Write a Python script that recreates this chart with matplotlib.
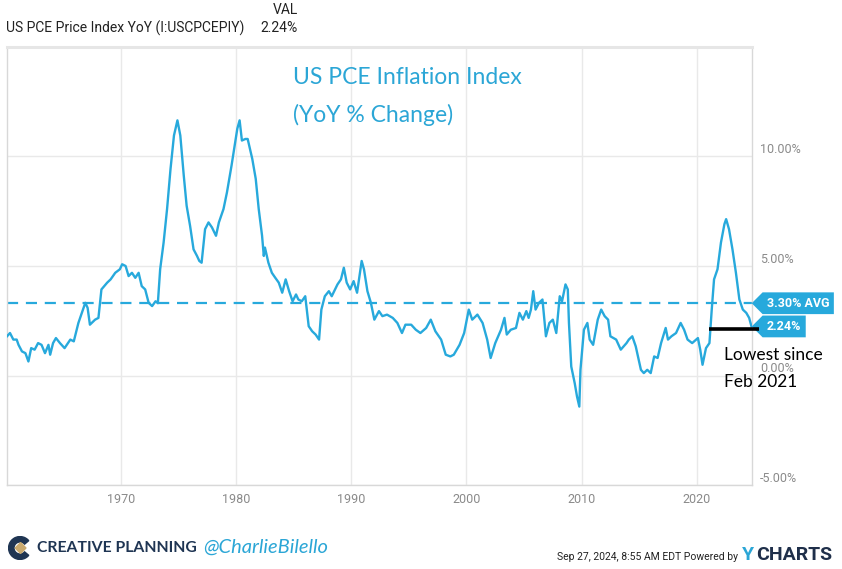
import matplotlib
matplotlib.use("Agg")
import matplotlib.pyplot as plt
import matplotlib.transforms as mtransforms
from matplotlib.path import Path
from matplotlib.patches import Wedge, Polygon

# US PCE Price Index YoY (%)
years = [1960.1, 1960.36, 1960.65, 1960.94, 1961.1, 1961.4, 1961.7, 1961.96, 1962.2, 1962.5,
         1962.8, 1963.1, 1963.4, 1963.7, 1963.85, 1964.1, 1964.35, 1964.7, 1965.1, 1965.6,
         1965.9, 1966.3, 1966.6, 1966.9, 1967.1, 1967.3, 1967.75, 1968.04, 1968.3, 1968.8,
         1969.1, 1969.5, 1969.7, 1969.9, 1970.1, 1970.4, 1970.66, 1970.95, 1971.24, 1971.53,
         1971.8, 1972.1, 1972.4, 1972.7, 1973.0, 1973.2, 1973.4, 1973.7, 1974.0, 1974.3,
         1974.6, 1974.9, 1975.15, 1975.45, 1975.7, 1976.0, 1976.3, 1976.6, 1976.8, 1977.0,
         1977.3, 1977.6, 1977.9, 1978.25, 1978.5, 1978.9, 1979.2, 1979.6, 1980.1, 1980.3,
         1980.5, 1980.8, 1981.0, 1981.4, 1981.7, 1981.96, 1982.25, 1982.4, 1982.5, 1982.8,
         1983.1, 1983.4, 1983.7, 1984.0, 1984.3, 1984.6, 1984.9, 1985.2, 1985.4, 1985.7,
         1986.0, 1986.3, 1986.6, 1986.9, 1987.2, 1987.4, 1987.7, 1988.05, 1988.3, 1988.8,
         1989.1, 1989.35, 1989.6, 1989.9, 1990.2, 1990.5, 1990.9, 1991.1, 1991.4, 1991.7,
         1992.0, 1992.4, 1992.7, 1993.1, 1993.6, 1994.0, 1994.4, 1994.7, 1995.2, 1995.6,
         1996.0, 1996.5, 1996.9, 1997.3, 1997.8, 1998.2, 1998.6, 1998.9, 1999.4, 1999.8,
         2000.2, 2000.5, 2000.95, 2001.4, 2001.8, 2002.1, 2002.5, 2003.0, 2003.3, 2003.5,
         2003.85, 2004.3, 2004.6, 2004.9, 2005.2, 2005.4, 2005.6, 2005.8, 2006.0, 2006.3,
         2006.6, 2006.9, 2007.2, 2007.5, 2007.8, 2008.1, 2008.3, 2008.6, 2008.8, 2008.9,
         2009.1, 2009.4, 2009.6, 2009.8, 2009.9, 2010.2, 2010.5, 2010.7, 2011.0, 2011.4,
         2011.7, 2012.0, 2012.3, 2012.5, 2013.0, 2013.4, 2013.9, 2014.1, 2014.4, 2014.7,
         2015.15, 2015.4, 2015.7, 2016.0, 2016.3, 2016.6, 2016.9, 2017.3, 2017.5, 2017.8,
         2018.2, 2018.6, 2018.9, 2019.2, 2019.6, 2020.1, 2020.3, 2020.5, 2020.8, 2021.1,
         2021.3, 2021.5, 2021.8, 2022.1, 2022.4, 2022.55, 2022.8, 2023.1, 2023.4, 2023.7,
         2024.0, 2024.3, 2024.55, 2024.75]
pce_yoy = [1.79, 1.94, 1.64, 1.64, 1.40, 1.10, 1.02, 0.64, 1.25, 1.18,
           1.48, 1.40, 1.02, 1.40, 0.95, 1.48, 1.71, 1.48, 1.25, 1.64,
           1.56, 2.40, 2.86, 3.32, 3.09, 2.32, 2.55, 2.63, 3.93, 4.24,
           4.39, 4.69, 4.77, 4.85, 5.08, 5.00, 4.54, 4.69, 4.46, 4.69,
           4.08, 3.93, 3.32, 3.17, 3.39, 3.30, 4.85, 6.07, 7.60, 9.43,
           10.96, 11.65, 10.96, 9.13, 7.75, 6.83, 5.76, 5.46, 5.23, 5.15,
           6.68, 6.99, 6.76, 6.38, 6.99, 7.60, 8.36, 9.59, 11.27, 11.65,
           10.73, 10.80, 10.80, 9.89, 8.98, 7.60, 6.38, 5.46, 5.84, 5.15,
           4.69, 4.46, 4.24, 3.78, 4.39, 3.85, 3.39, 3.70, 3.47, 3.39,
           3.62, 2.25, 2.02, 1.87, 1.64, 3.01, 3.62, 3.85, 3.62, 4.16,
           4.39, 4.92, 4.24, 3.93, 4.31, 3.78, 5.23, 4.85, 3.85, 3.32,
           2.55, 2.94, 2.71, 2.78, 2.63, 2.40, 1.94, 2.32, 2.32, 2.09,
           1.94, 2.17, 2.55, 2.02, 1.64, 0.95, 0.87, 0.95, 1.40, 1.94,
           3.01, 2.55, 2.78, 2.40, 1.64, 0.80, 1.48, 2.09, 2.63, 1.87,
           2.09, 2.17, 2.86, 2.55, 2.94, 2.63, 3.01, 3.85, 3.01, 3.32,
           3.47, 1.79, 2.40, 2.55, 1.94, 3.62, 3.39, 4.16, 3.93, 2.40,
           0.41, -0.35, -0.96, -1.42, 0.26, 2.09, 2.40, 1.64, 1.40, 2.55,
           3.01, 2.71, 2.55, 1.79, 1.64, 1.18, 1.48, 1.64, 1.79, 1.33,
           0.26, 0.11, 0.26, 0.11, 0.87, 0.80, 1.48, 2.17, 1.64, 1.79,
           1.94, 2.40, 2.09, 1.64, 1.48, 1.71, 1.18, 0.49, 1.25, 1.48,
           3.01, 4.39, 4.85, 6.07, 6.91, 7.14, 6.68, 5.76, 4.69, 3.47,
           3.01, 2.86, 2.63, 2.24]

avg_value = 3.30
last_value = 2.24
feb_2021 = 2021.05      # start of the "lowest since" marker line
marker_level = 2.12

x_ticks = [1970, 1980, 1990, 2000, 2010, 2020]
y_ticks = [-5, 0, 5, 10]

blue = "#27a9dc"
grey_txt = "#8a8a8a"
grid_c = "#e9e9e9"

plt.rcParams['font.family'] = ['Roboto', 'DejaVu Sans']

fig = plt.figure(figsize=(8.42, 5.69), dpi=100)
W, H = 842, 569
ax = fig.add_axes([7 / W, 1 - 485 / H, (751.7 - 7) / W, (485 - 47) / H])

ax.plot(years, pce_yoy, color=blue, lw=1.7, solid_joinstyle="round", zorder=3)
ax.axhline(avg_value, color=blue, lw=1.6, ls=(0, (5, 3.5)), zorder=2)

ax.set_xlim(1960.1, 2024.77)
ax.set_ylim(-5, 15)
ax.set_xticks(x_ticks)
ax.set_yticks(y_ticks)
ax.set_yticklabels([f"{v:.2f}%" for v in y_ticks])
ax.yaxis.tick_right()
ax.tick_params(axis="both", length=0, labelsize=9, colors=grey_txt)
ax.tick_params(axis="x", pad=6)
ax.tick_params(axis="y", pad=6)
for lbl in ax.get_yticklabels():
    lbl.set_verticalalignment("bottom")
ax.grid(True, color=grid_c, lw=1)
ax.set_axisbelow(True)
for side, sp in ax.spines.items():
    sp.set_color("#d8d8d8")
    sp.set_linewidth(1)
ax.spines["top"].set_linewidth(2.2)
ax.spines["top"].set_color("#e6e6e6")


# tag shaped label boxes on the right edge
def tag_box(x0, y0, width, height, mutation_size):
    pad = 0.35 * mutation_size
    x0, y0 = x0 - pad, y0 - pad
    width, height = width + 2 * pad, height + 2 * pad
    tip = 0.5 * height
    verts = [(x0 - tip, y0 + height / 2), (x0, y0 + height), (x0 + width, y0 + height),
             (x0 + width, y0), (x0, y0), (x0 - tip, y0 + height / 2)]
    return Path(verts, closed=True)


trans = mtransforms.blended_transform_factory(ax.transAxes, ax.transData)
for val, txt in [(avg_value, f"{avg_value:.2f}% AVG"), (last_value, f"{last_value:.2f}%")]:
    ax.annotate(txt, xy=(1, val), xycoords=trans, xytext=(11, 0), textcoords="offset points",
                ha="left", va="center", fontsize=9, fontweight="bold", color="white",
                bbox=dict(boxstyle=tag_box, fc=blue, ec="none"), annotation_clip=False)

# "lowest since" marker
ax.plot([feb_2021, 2024.77 + 0.6], [marker_level, marker_level], color="black", lw=2.6,
        clip_on=False, zorder=4, solid_capstyle="butt")
hand = ['Lato', 'DejaVu Sans']
fig.text(724 / W, 1 - 355 / H, "Lowest since", fontsize=12.5, color="black", va="center",
         family=hand)
fig.text(724 / W, 1 - 382 / H, "Feb 2021", fontsize=12.5, color="black", va="center",
         family=hand)

# chart annotation title
fig.text(293 / W, 1 - 78 / H, "US PCE Inflation Index", fontsize=16.5, color="#2ba6d6",
         va="center", family=hand)
fig.text(293 / W, 1 - 115 / H, "(YoY % Change)", fontsize=16.5, color="#2ba6d6",
         va="center", family=hand)

# header
fig.text(6 / W, 1 - 28 / H, "US PCE Price Index YoY (I:USCPCEPIY)", fontsize=10,
         color="#222222", va="center")
fig.text(298 / W, 1 - 10 / H, "VAL", fontsize=10, color="#222222", va="center", ha="right")
fig.text(298 / W, 1 - 28 / H, f"{last_value:.2f}%", fontsize=10, color="#222222",
         va="center", ha="right")

# footer: creative planning logo + handle
lax = fig.add_axes([8 / W, 1 - 560 / H, 24 / W, 24 / H])
lax.set_xlim(-1, 1)
lax.set_ylim(-1, 1)
lax.set_aspect("equal")
lax.axis("off")
lax.add_patch(Wedge((0, 0), 0.95, 40, 320, width=0.45, color="#1f3553"))
lax.add_patch(Polygon([(0.05, 0.45), (0.5, 0), (0.05, -0.45), (-0.4, 0)], color="#c9a96e"))

fig.text(37 / W, 1 - 548 / H, "CREATIVE PLANNING", fontsize=11.3, fontweight="bold",
         color="#1f3553", va="center", family=['Lato', 'DejaVu Sans'])
fig.text(203 / W, 1 - 547 / H, "@CharlieBilello", fontsize=14.5, color="#2ba6d6",
         va="center", style="italic", family=hand)

fig.text(738 / W, 1 - 557 / H, "Sep 27, 2024, 8:55 AM EDT Powered by", fontsize=7.5,
         color="#222222", va="center", ha="right")
fig.text(742 / W, 1 - 555 / H, "Y", fontsize=14, fontweight="bold", color="#2ba6d6",
         va="center")
fig.text(756 / W, 1 - 555 / H, "CHARTS", fontsize=14, fontweight="bold", color="#1f2f4a",
         va="center")

fig.savefig("out.png", dpi=100)
